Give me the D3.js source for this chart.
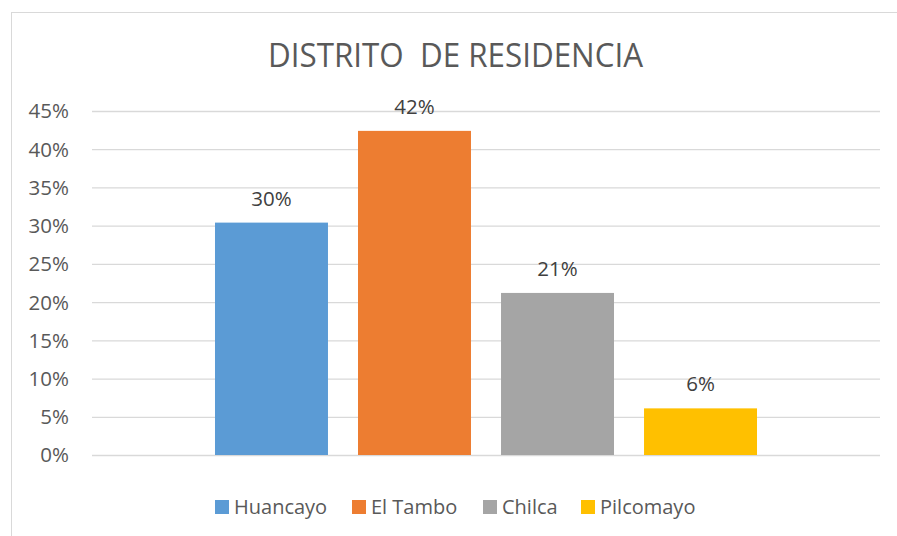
<!DOCTYPE html>
<html>
<head>
<meta charset="utf-8">
<script src="https://cdn.jsdelivr.net/npm/d3@7"></script>
<style>
  body { margin:0; background:#fff; }
  text { font-family:"Open Sans", "Noto Sans", sans-serif; }
</style>
</head>
<body>
<svg id="chart" width="897" height="536"></svg>
<script>
var title = "DISTRITO\u00a0\u00a0DE RESIDENCIA";
var series = ["Huancayo", "El Tambo", "Chilca", "Pilcomayo"];
var values = [0.304, 0.424, 0.212, 0.061];
var labels = ["30%", "42%", "21%", "6%"];
var colors = ["#5B9BD5", "#ED7D31", "#A5A5A5", "#FFC000"];
var yTicks = [0, 0.05, 0.10, 0.15, 0.20, 0.25, 0.30, 0.35, 0.40, 0.45];

var svg = d3.select("#chart");

// chart frame
svg.append("rect")
  .attr("x", 11.5).attr("y", 12.5)
  .attr("width", 900).attr("height", 600)
  .attr("fill", "#fff")
  .attr("stroke", "#d9d9d9").attr("stroke-width", 1);

var plot = {left:92, right:880, top:111, bottom:455};

var x = d3.scaleBand()
  .domain(series)
  .range([plot.left, plot.right])
  .paddingInner(0.21)
  .paddingOuter(0.86);

var y = d3.scaleLinear()
  .domain([0, 0.45])
  .range([plot.bottom, plot.top]);

// gridlines + tick labels
var yAxis = d3.axisLeft(y)
  .tickValues(yTicks)
  .tickSize(-(plot.right - plot.left))
  .tickPadding(23)
  .tickFormat(d3.format(".0%"));

var g = svg.append("g")
  .attr("transform", "translate(" + plot.left + ",0)")
  .call(yAxis);
g.select(".domain").remove();
g.selectAll(".tick line").attr("stroke", "#d9d9d9").attr("stroke-width", 1.3);
g.selectAll(".tick text")
  .attr("fill", "#595959")
  .attr("font-size", "20.5px")
  .attr("dy", "0.34em");

// bars
svg.append("g").selectAll("rect")
  .data(series)
  .enter().append("rect")
  .attr("x", function(d){ return x(d); })
  .attr("width", x.bandwidth())
  .attr("y", function(d,i){ return y(values[i]); })
  .attr("height", function(d,i){ return y(0) - y(values[i]); })
  .attr("fill", function(d,i){ return colors[i]; });

// data labels
svg.append("g").selectAll("text")
  .data(series)
  .enter().append("text")
  .attr("x", function(d){ return x(d) + x.bandwidth()/2; })
  .attr("y", function(d,i){ return y(values[i]) - 17; })
  .attr("text-anchor", "middle")
  .attr("fill", "#404040")
  .attr("font-size", "20.5px")
  .text(function(d,i){ return labels[i]; });

// title
svg.append("text")
  .attr("x", 455.5).attr("y", 67)
  .attr("text-anchor", "middle")
  .attr("fill", "#595959")
  .attr("font-size", "32px")
  .attr("textLength", 375)
  .attr("lengthAdjust", "spacingAndGlyphs")
  .text(title);

// legend
var legendX = [215, 352, 483, 581];
var legend = svg.append("g").selectAll("g")
  .data(series)
  .enter().append("g")
  .attr("transform", function(d,i){ return "translate(" + legendX[i] + ",500)"; });

legend.append("rect")
  .attr("width", 14).attr("height", 14)
  .attr("fill", function(d,i){ return colors[i]; });

legend.append("text")
  .attr("x", 19).attr("y", 14)
  .attr("fill", "#595959")
  .attr("font-size", "20px")
  .text(function(d){ return d; });
</script>
</body>
</html>
